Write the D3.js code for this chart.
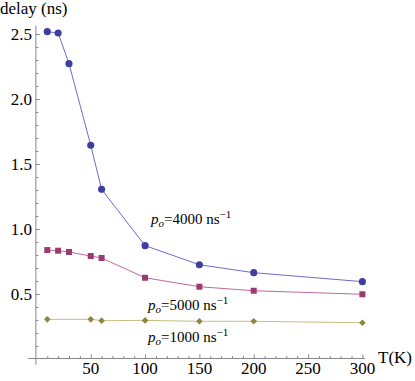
<!DOCTYPE html>
<html>
<head>
<meta charset="utf-8">
<script src="https://cdn.jsdelivr.net/npm/d3@7"></script>
</head>
<body style="margin:0">
<svg id="chart" width="415" height="381" font-family="Liberation Serif"></svg>
<script>
// data
let tempsA = [10, 20, 30, 50, 60, 100, 150, 200, 300];
let delay4000 = [2.518, 2.508, 2.272, 1.644, 1.305, 0.872, 0.725, 0.664, 0.595];
let delay5000 = [0.838, 0.833, 0.823, 0.792, 0.777, 0.625, 0.556, 0.525, 0.498];
let tempsB = [10, 50, 60, 100, 150, 200, 300];
let delay1000 = [0.305, 0.305, 0.295, 0.297, 0.29, 0.29, 0.279];
let xTicks = [50, 100, 150, 200, 250, 300];
let yTicks = [0.5, 1.0, 1.5, 2.0, 2.5];
let seriesLabels = ["4000", "5000", "1000"];

let fontName = "Liberation Serif";

let svg = d3.select("#chart");

// scales
let xScale = d3.scaleLinear().domain([0, 300]).range([36.4, 362.4]);
let yScale = d3.scaleLinear().domain([0, 2.5]).range([359, 34]);

// axis lines, crossing at the origin with a bit of overhang
svg.append("line")
  .attr("x1", xScale(-7.5)).attr("x2", xScale(302.5))
  .attr("y1", yScale(0) - 0.5).attr("y2", yScale(0) - 0.5)
  .attr("stroke", "#888").attr("stroke-width", 1);
svg.append("line")
  .attr("x1", xScale(0) - 0.5).attr("x2", xScale(0) - 0.5)
  .attr("y1", yScale(-0.045)).attr("y2", yScale(2.565))
  .attr("stroke", "#888").attr("stroke-width", 1);

// x ticks (labels drawn separately)
let gx = svg.append("g").attr("transform", "translate(0," + (yScale(0) - 0.5) + ")");
gx.call(d3.axisTop(xScale).tickValues(d3.range(10, 301, 10)).tickSize(0).tickFormat(""));
gx.select(".domain").remove();
gx.selectAll(".tick text").remove();
gx.selectAll(".tick line")
  .attr("y2", d => xTicks.includes(d) ? -4 : -2.5)
  .attr("stroke", "#888");

// y ticks
let gy = svg.append("g").attr("transform", "translate(" + (xScale(0) - 0.5) + ",0)");
gy.call(d3.axisRight(yScale).tickValues(d3.range(1, 26).map(d => d / 10)).tickSize(0).tickFormat(""));
gy.select(".domain").remove();
gy.selectAll(".tick text").remove();
gy.selectAll(".tick line")
  .attr("x2", (d, i) => (i + 1) % 5 === 0 ? 4 : 2.5)
  .attr("stroke", "#888");

// series
let series = [
  { xs: tempsA, ys: delay4000, line: "#6b6bd6", mark: "#3f3fa0", shape: d3.symbolCircle, size: 40, rot: 0 },
  { xs: tempsA, ys: delay5000, line: "#c06a9a", mark: "#993d71", shape: d3.symbolSquare, size: 36, rot: 0 },
  { xs: tempsB, ys: delay1000, line: "#c8bf80", mark: "#8f8440", shape: d3.symbolSquare, size: 22, rot: 45 }
];

let line = d3.line()
  .x(d => xScale(d[0]))
  .y(d => yScale(d[1]));

series.forEach(function (s) {
  let pts = s.xs.map((x, i) => [x, s.ys[i]]);
  svg.append("path")
    .datum(pts)
    .attr("d", line)
    .attr("fill", "none")
    .attr("stroke", s.line)
    .attr("stroke-width", 1);
  svg.append("g").selectAll("path")
    .data(pts)
    .enter()
    .append("path")
    .attr("d", d3.symbol().type(s.shape).size(s.size))
    .attr("transform", d => "translate(" + xScale(d[0]) + "," + yScale(d[1]) + ") rotate(" + s.rot + ")")
    .attr("fill", s.mark);
});

// tick labels
xTicks.forEach(function (d) {
  svg.append("text")
    .attr("x", xScale(d)).attr("y", yScale(0) + 15)
    .attr("text-anchor", "middle")
    .attr("font-family", fontName).attr("font-size", 17)
    .text(d);
});
yTicks.forEach(function (d) {
  svg.append("text")
    .attr("x", 32).attr("y", yScale(d) + 6)
    .attr("text-anchor", "end")
    .attr("font-family", fontName).attr("font-size", 17)
    .text(d3.format(".1f")(d));
});

// axis titles
svg.append("text").attr("x", 0).attr("y", 14)
  .attr("font-family", fontName).attr("font-size", 17)
  .text("delay (ns)");
svg.append("text").attr("x", 378).attr("y", 363)
  .attr("font-family", fontName).attr("font-size", 17)
  .text("T(K)");

// in-plot labels  p_o = N ns^-1
let labelPos = [[151, 224], [148, 310], [148, 342]];
seriesLabels.forEach(function (lab, i) {
  let t = svg.append("text")
    .attr("x", labelPos[i][0]).attr("y", labelPos[i][1])
    .attr("font-family", fontName).attr("font-size", 15);
  t.append("tspan").attr("font-style", "italic").text("p");
  t.append("tspan").attr("font-style", "italic").attr("font-size", 11).attr("dy", 3).text("o");
  t.append("tspan").attr("dy", -3).text("=" + lab + " ns");
  t.append("tspan").attr("font-size", 11).attr("dy", -6).text("\u22121");
});
</script>
</body>
</html>
